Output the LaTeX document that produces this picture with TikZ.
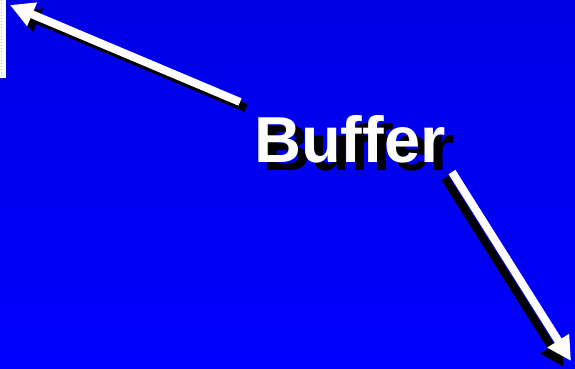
\documentclass[tikz,border=0pt]{standalone}
\usepackage{fontspec}
\setmainfont{Liberation Sans}
\usetikzlibrary{arrows.meta}

\tikzset{
  arrowline/.style={line width=8pt,-{Triangle[length=24pt,width=24pt]}},
  bigtext/.style={font=\fontsize{65}{65}\selectfont\bfseries,inner sep=0pt,anchor=base west}
}

\begin{document}
\begin{tikzpicture}[x=1pt,y=-1pt]
\useasboundingbox (0,0) rectangle (575,369);
% background
\shade[top color={rgb,255:red,0;green,0;blue,228},bottom color={rgb,255:red,0;green,0;blue,255}] (0,0) rectangle (575,369);
% left edge strip
\fill[white] (0,0) rectangle (6,78);
\draw[yellow!80!black,dotted,line width=1pt] (1.5,0) -- (1.5,78);

\coordinate (tailA) at (240,102);
\coordinate (tipA) at (10,5);
\coordinate (tailB) at (452,172);
\coordinate (tipB) at (571,361);

% shadows
\draw[arrowline,black] ([shift={(6,6)}]tailA) -- ([shift={(6,6)}]tipA);
\draw[arrowline,black] ([shift={(-7,6)}]tailB) -- ([shift={(-7,6)}]tipB);
\node[bigtext,black] (shadow) at (263,170) {Buffer};

% arrows
\draw[arrowline,white] (tailA) -- (tipA);
\draw[arrowline,white] (tailB) -- (tipB);
\node[bigtext,white] (label) at (254,162) {Buffer};
\end{tikzpicture}
\end{document}
